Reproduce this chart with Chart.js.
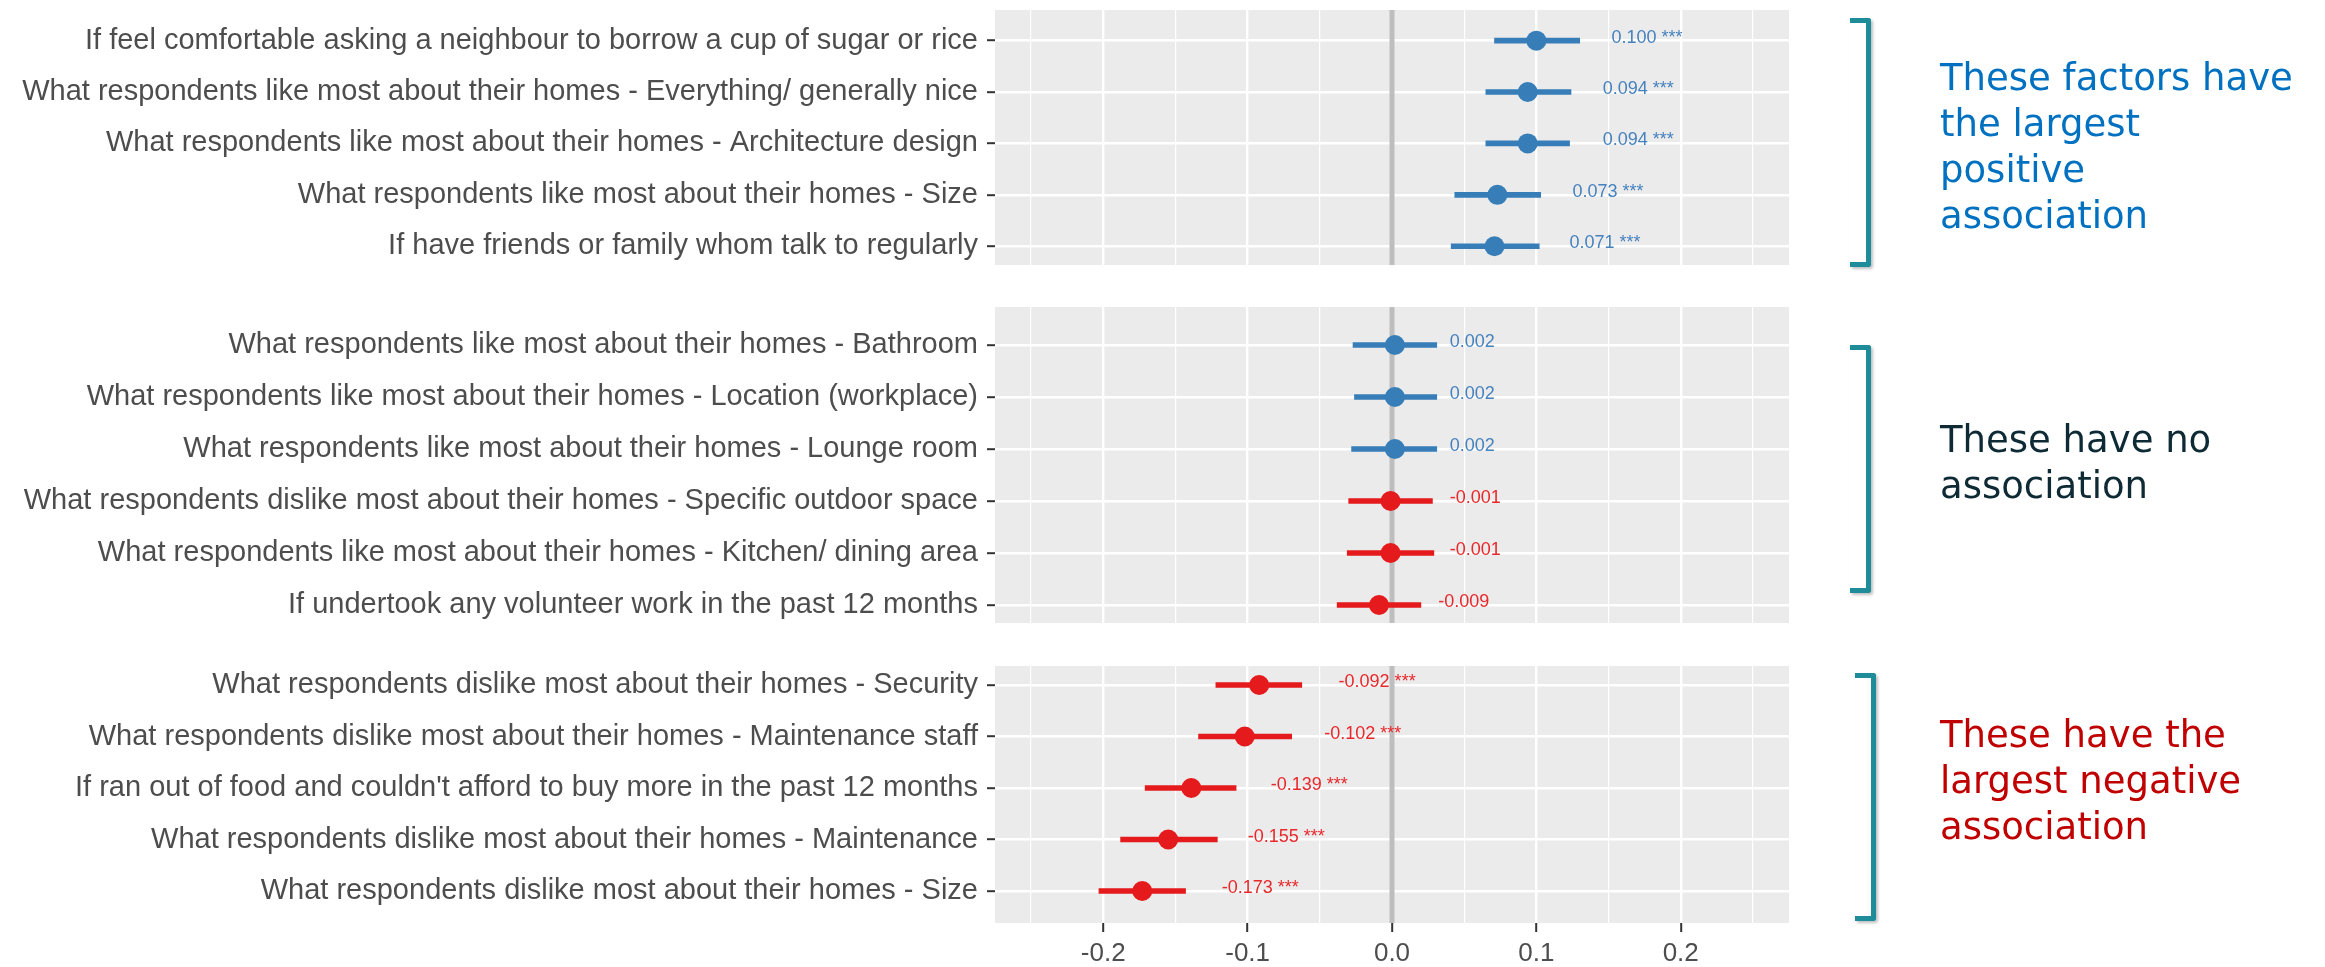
<!DOCTYPE html>
<html lang="en">
<head>
  <meta charset="UTF-8">
  <title>Factors associated with wellbeing</title>
  <script src="https://cdn.jsdelivr.net/npm/chart.js"></script>
  <style>
    body { margin: 0; width: 2325px; height: 967px; position: relative; overflow: hidden; background: #fff; }
    canvas.panel { position: absolute; left: 0; top: 0; }
    .bracket { position: absolute; width: 16px; border: 5px solid #1E8C99; border-left: none; border-radius: 0 3px 3px 0; box-shadow: 2px 2px 3px rgba(0,0,0,0.25); }
    .note { position: absolute; left: 1940px; font-family: 'DejaVu Sans', Verdana, sans-serif; font-size: 37px; line-height: 46px; white-space: nowrap; }
  </style>
  <script>
    // x axis ticks
    const xTicks = [-0.2, -0.1, 0, 0.1, 0.2];
    const xMinorTicks = [-0.25, -0.15, -0.05, 0.05, 0.15, 0.25];

    // largest positive association
    const positiveLabels = [
      'If feel comfortable asking a neighbour to borrow a cup of sugar or rice',
      'What respondents like most about their homes - Everything/ generally nice',
      'What respondents like most about their homes - Architecture design',
      'What respondents like most about their homes - Size',
      'If have friends or family whom talk to regularly'
    ];
    const positiveEstimates = [0.100, 0.094, 0.094, 0.073, 0.071];
    const positiveLower = [0.071, 0.065, 0.065, 0.0435, 0.041];
    const positiveUpper = [0.130, 0.124, 0.123, 0.103, 0.102];
    const positiveStars = ['***', '***', '***', '***', '***'];

    // no association
    const neutralLabels = [
      'What respondents like most about their homes - Bathroom',
      'What respondents like most about their homes - Location (workplace)',
      'What respondents like most about their homes - Lounge room',
      'What respondents dislike most about their homes - Specific outdoor space',
      'What respondents like most about their homes - Kitchen/ dining area',
      'If undertook any volunteer work in the past 12 months'
    ];
    const neutralEstimates = [0.002, 0.002, 0.002, -0.001, -0.001, -0.009];
    const neutralLower = [-0.027, -0.026, -0.028, -0.030, -0.031, -0.038];
    const neutralUpper = [0.031, 0.031, 0.031, 0.028, 0.029, 0.020];
    const neutralStars = ['', '', '', '', '', ''];

    // largest negative association
    const negativeLabels = [
      'What respondents dislike most about their homes - Security',
      'What respondents dislike most about their homes - Maintenance staff',
      "If ran out of food and couldn't afford to buy more in the past 12 months",
      'What respondents dislike most about their homes - Maintenance',
      'What respondents dislike most about their homes - Size'
    ];
    const negativeEstimates = [-0.092, -0.102, -0.139, -0.155, -0.173];
    const negativeLower = [-0.122, -0.134, -0.171, -0.188, -0.203];
    const negativeUpper = [-0.0625, -0.0695, -0.108, -0.121, -0.143];
    const negativeStars = ['***', '***', '***', '***', '***'];

    const W = 2325, H = 967;
    const AXIS_LEFT = 995, AXIS_RIGHT = 1789;
    const X_MIN = -0.275, X_MAX = 0.275;
    const BLUE = '#377EB8', RED = '#E41A1C';
    const FONT = '"Liberation Sans", Arial, sans-serif';
    const xGrid = xTicks.concat(xMinorTicks).sort((a, b) => a - b);

    function isMajor(v) {
      return xTicks.some(t => Math.abs(t - v) < 1e-9);
    }

    const panelBackground = {
      id: 'panelBackground',
      beforeDraw(chart) {
        const a = chart.chartArea;
        chart.ctx.save();
        chart.ctx.fillStyle = '#EBEBEB';
        chart.ctx.fillRect(a.left, a.top, a.right - a.left, a.bottom - a.top);
        chart.ctx.restore();
      }
    };

    // estimate text next to each point
    const valueLabels = {
      id: 'valueLabels',
      afterDatasetsDraw(chart) {
        const ctx = chart.ctx;
        const xs = chart.scales.x;
        const ds = chart.data.datasets[2];
        const meta = chart.getDatasetMeta(2);
        ctx.save();
        ctx.font = '18px ' + FONT;
        ctx.textAlign = 'left';
        ctx.textBaseline = 'alphabetic';
        meta.data.forEach((pt, i) => {
          const v = ds.data[i].x;
          const star = ds.stars[i];
          const off = (star ? 0.052 : 0.038) + (v < 0 ? 0.003 : 0);
          ctx.fillStyle = v < 0 ? '#E8282B' : '#4682BE';
          const text = v.toFixed(3) + (star ? ' ' + star : '');
          ctx.fillText(text, xs.getPixelForValue(v + off), pt.y + 2);
        });
        ctx.restore();
      }
    };

    function makePanel(p) {
      const colors = p.estimates.map(v => v < 0 ? RED : BLUE);
      const xHeight = p.showX ? 44 : 0;
      new Chart(document.getElementById(p.id), {
        type: 'scatter',
        data: {
          datasets: [
            {
              type: 'line',
              data: [{x: 0, y: p.yMin}, {x: 0, y: p.yMax}],
              borderColor: '#BEBEBE',
              borderWidth: 5,
              pointRadius: 0,
              order: 3
            },
            {
              type: 'bar',
              indexAxis: 'y',
              data: p.labels.map((_, i) => ({x: [p.lower[i], p.upper[i]], y: i})),
              backgroundColor: colors,
              barThickness: 5,
              borderWidth: 0,
              order: 2
            },
            {
              type: 'scatter',
              data: p.labels.map((_, i) => ({x: p.estimates[i], y: i})),
              stars: p.stars,
              pointRadius: 10,
              pointBackgroundColor: colors,
              pointBorderWidth: 0,
              order: 1
            }
          ]
        },
        options: {
          responsive: false,
          animation: false,
          events: [],
          layout: {
            padding: {left: 0, top: p.top, right: W - AXIS_RIGHT, bottom: H - p.bottom - xHeight}
          },
          plugins: {
            legend: {display: false},
            tooltip: {enabled: false}
          },
          scales: {
            x: {
              type: 'linear',
              min: X_MIN,
              max: X_MAX,
              bounds: 'data',
              offset: false,
              beginAtZero: false,
              afterBuildTicks: s => { s.ticks = xGrid.map(v => ({value: v})); },
              afterFit: s => { s.height = xHeight; s.paddingLeft = 0; s.paddingRight = 0; },
              border: {display: false},
              grid: {
                offset: false,
                color: '#FFFFFF',
                lineWidth: c => (c.tick && isMajor(c.tick.value)) ? 2.4 : 1.2,
                drawTicks: p.showX,
                tickLength: 9,
                tickWidth: 2,
                tickColor: c => (c.tick && isMajor(c.tick.value)) ? '#333333' : 'rgba(0,0,0,0)'
              },
              ticks: {
                display: p.showX,
                autoSkip: false,
                maxRotation: 0,
                padding: 6,
                color: '#4D4D4D',
                font: {family: FONT, size: 26},
                callback: v => isMajor(v) ? v.toFixed(1) : ''
              }
            },
            y: {
              type: 'linear',
              reverse: true,
              min: p.yMin,
              max: p.yMax,
              bounds: 'data',
              offset: false,
              afterBuildTicks: s => { s.ticks = p.labels.map((_, i) => ({value: i})); },
              afterFit: s => { s.width = AXIS_LEFT; s.paddingTop = 0; s.paddingBottom = 0; },
              border: {display: false},
              grid: {offset: false, color: '#FFFFFF', lineWidth: 2.4, tickLength: 8, tickWidth: 2, tickColor: '#333333'},
              ticks: {
                autoSkip: false,
                padding: 9,
                color: '#4D4D4D',
                font: {family: FONT, size: 29},
                callback: v => p.labels[v]
              }
            }
          }
        },
        plugins: [panelBackground, valueLabels]
      });
    }

    window.onload = function() {
      makePanel({id: 'positiveChart', top: 7, bottom: 265, yMin: -0.596, yMax: 4.365, showX: false,
        labels: positiveLabels, estimates: positiveEstimates, lower: positiveLower, upper: positiveUpper, stars: positiveStars});
      makePanel({id: 'neutralChart', top: 307, bottom: 623, yMin: -0.731, yMax: 5.346, showX: false,
        labels: neutralLabels, estimates: neutralEstimates, lower: neutralLower, upper: neutralUpper, stars: neutralStars});
      makePanel({id: 'negativeChart', top: 666, bottom: 923, yMin: -0.369, yMax: 4.621, showX: true,
        labels: negativeLabels, estimates: negativeEstimates, lower: negativeLower, upper: negativeUpper, stars: negativeStars});
    };
  </script>
</head>
<body>
<canvas id="positiveChart" class="panel" width="2325" height="967"></canvas>
<canvas id="neutralChart" class="panel" width="2325" height="967"></canvas>
<canvas id="negativeChart" class="panel" width="2325" height="967"></canvas>

<div class="bracket" style="left:1850px; top:18px; height:239px;"></div>
<div class="bracket" style="left:1850px; top:345px; height:238px;"></div>
<div class="bracket" style="left:1855px; top:673px; height:238px;"></div>

<div class="note" style="top:55px; color:#0070C0;">These factors have<br>the largest<br>positive<br>association</div>
<div class="note" style="top:417px; color:#0E2A35;">These have no<br>association</div>
<div class="note" style="top:712px; color:#C00000;">These have the<br>largest negative<br>association</div>
</body>
</html>
